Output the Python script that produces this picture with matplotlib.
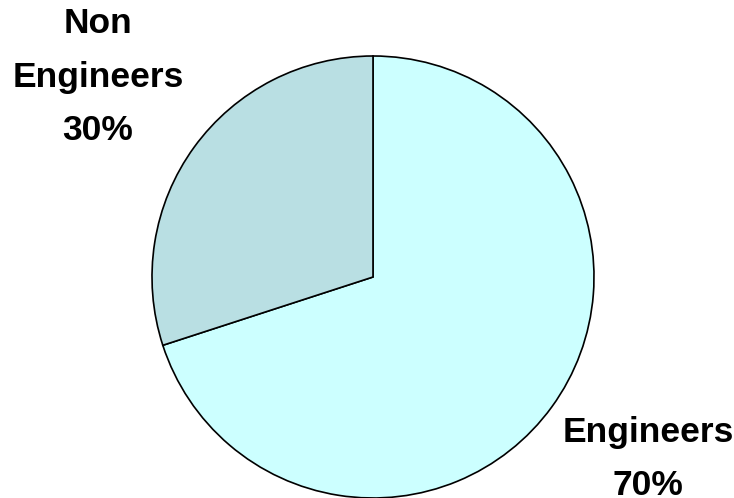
import matplotlib.pyplot as plt

labels = ['Engineers', 'Non\nEngineers']
shares = [70, 30]
colors = ['#CCFFFF', '#B9DFE3']

W, H = 734, 498
fig = plt.figure(figsize=(W / 100, H / 100), dpi=100)
ax = fig.add_axes([0, 0, 1, 1])

# pie centre and radius in pixels (y measured from bottom)
cx, cy, r = 373, H - 277, 221
ax.pie(shares, colors=colors, startangle=90, counterclock=False,
       center=(cx, cy), radius=r, frame=True,
       wedgeprops=dict(edgecolor='black', linewidth=1.2))
ax.set_xlim(0, W)
ax.set_ylim(0, H)
ax.set_aspect('equal')
ax.axis('off')

font = dict(family=['Liberation Sans', 'DejaVu Sans'], fontsize=25.5,
            fontweight='bold', ha='center', va='center', linespacing=1.8)
pos = [(648, H - 459), (98, H - 77)]
for lab, s, (x, y) in zip(labels, shares, pos):
    ax.text(x, y, f'{lab}\n{s}%', **font)

fig.savefig('out.png', dpi=100)
